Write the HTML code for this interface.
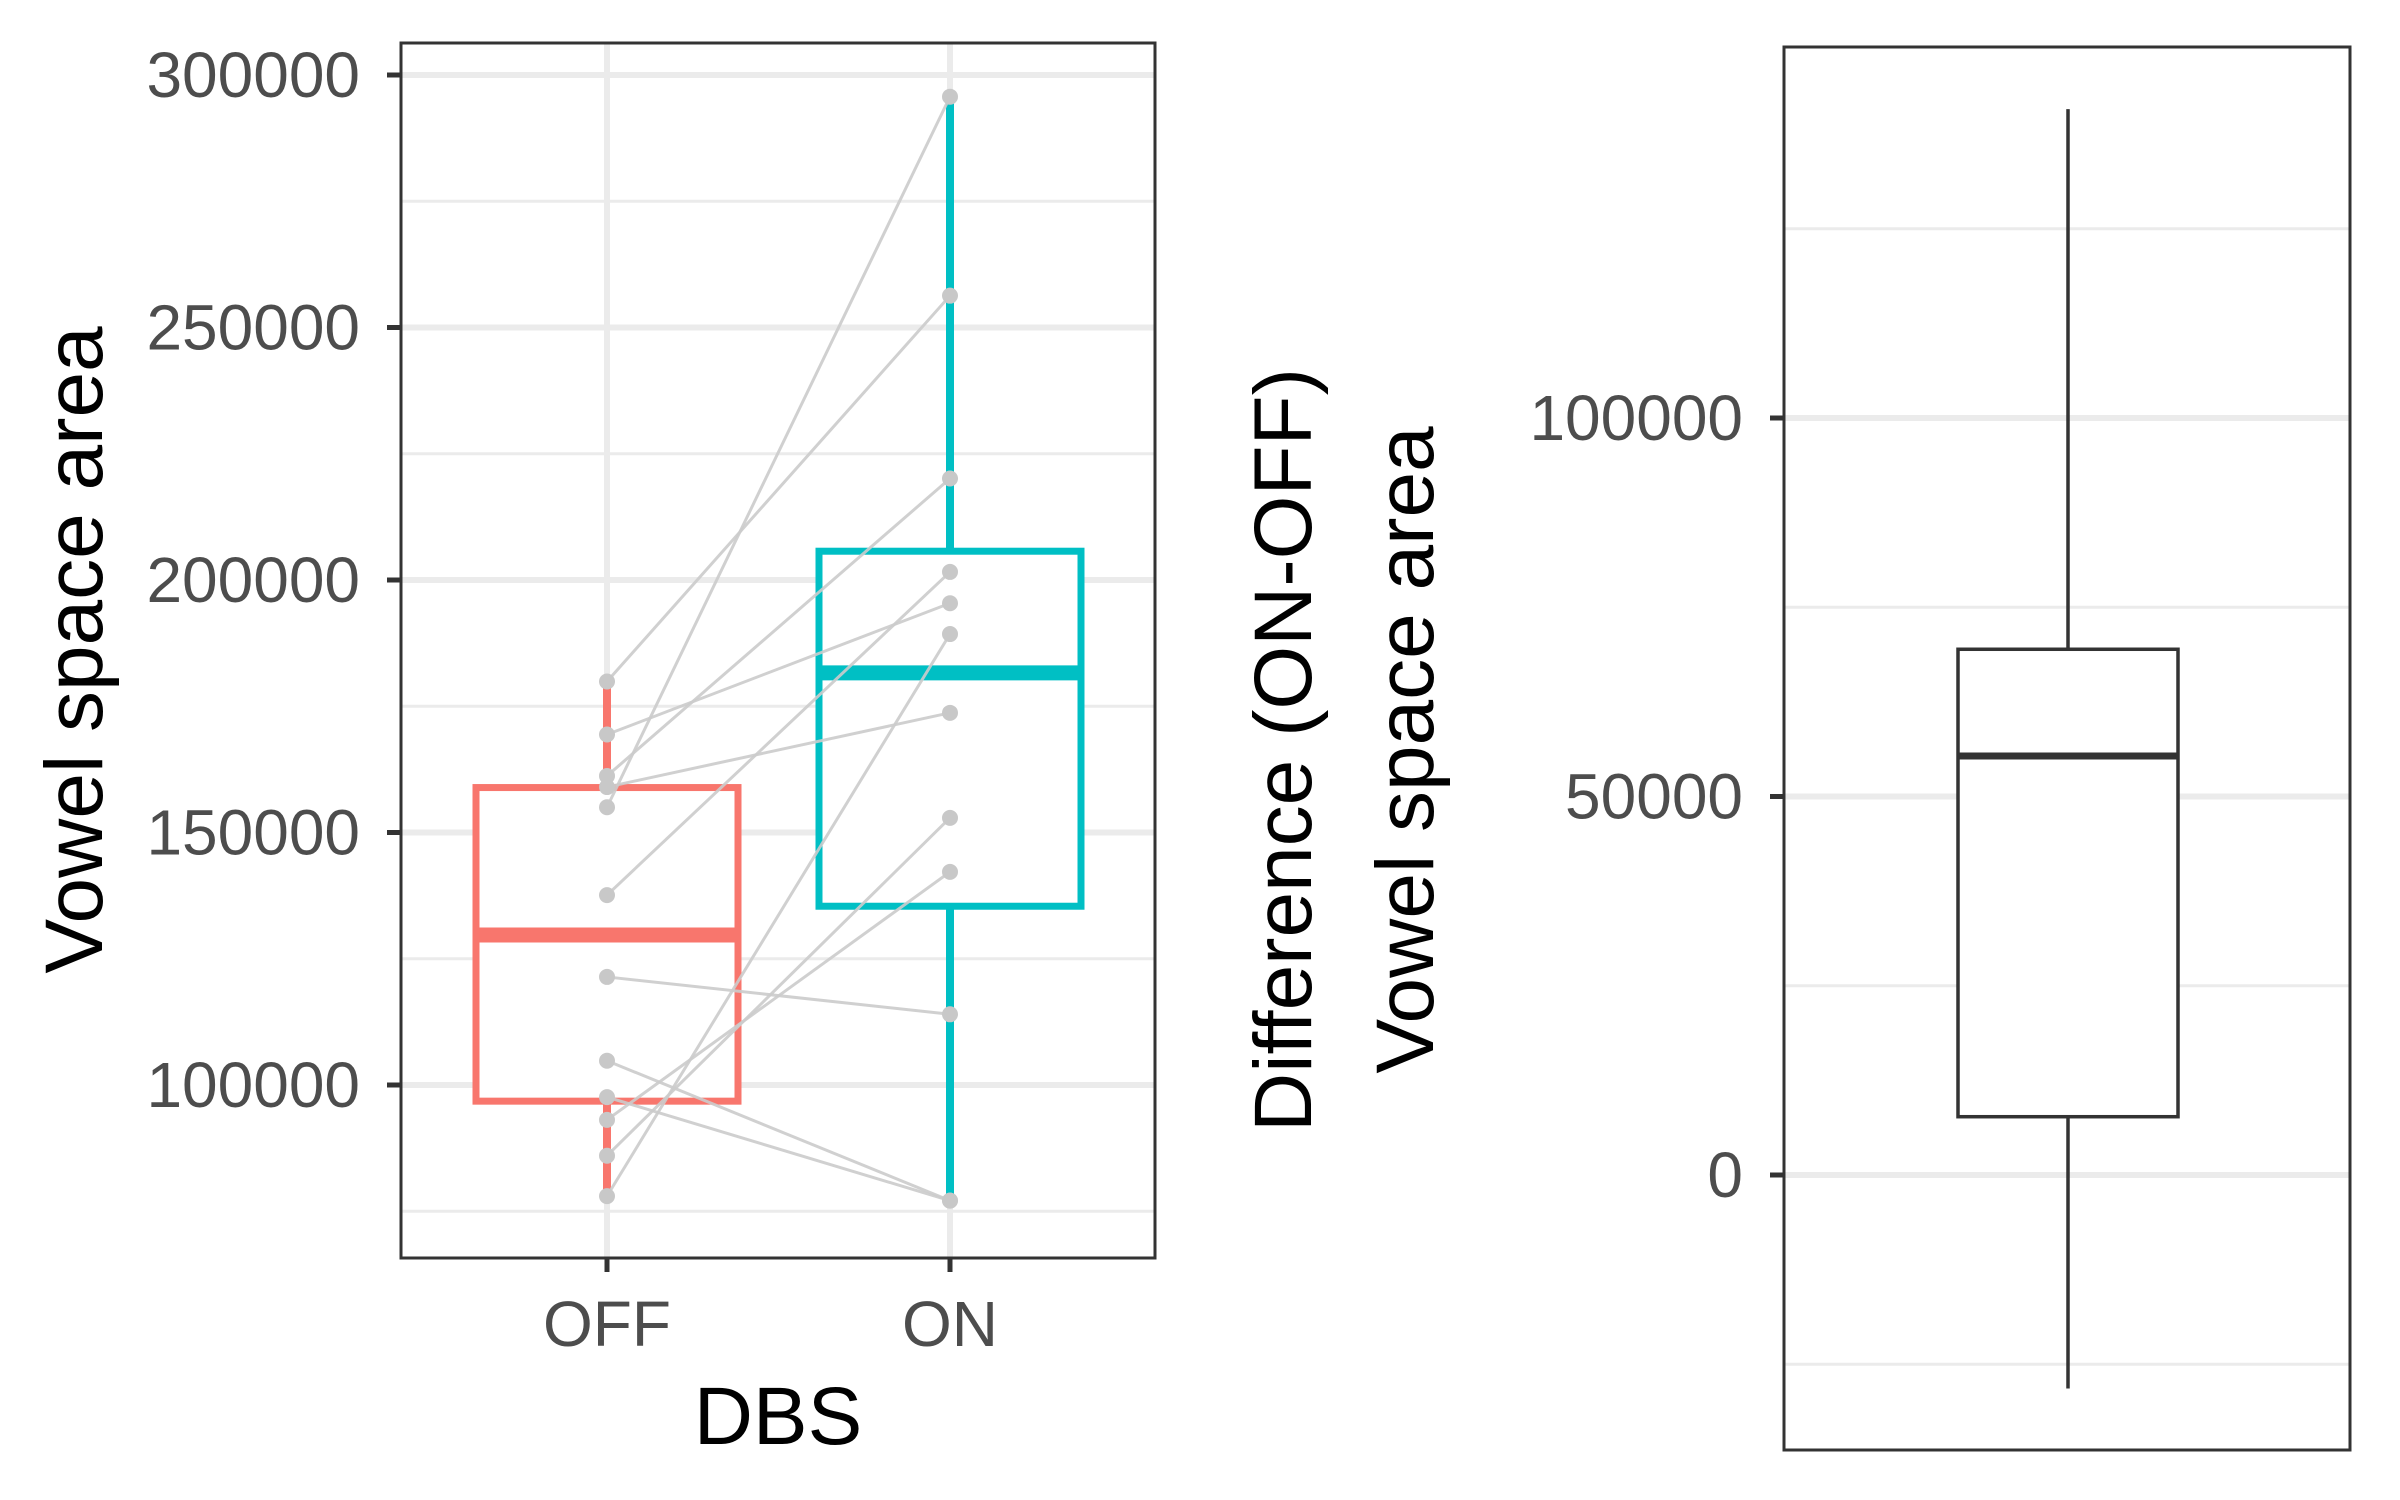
<!DOCTYPE html>
<html><head><meta charset="utf-8"><style>
html,body{margin:0;padding:0;background:#fff;}
svg{display:block;font-family:"Liberation Sans",Arial,sans-serif;}
</style></head><body>
<svg id="chart" width="2400" height="1500" viewBox="0 0 2400 1500" xmlns="http://www.w3.org/2000/svg">
<g id="left"></g>
<g id="right"></g>
</svg>
<script>
const groups = ["OFF", "ON"];
const offValues = [155000, 179900, 161200, 137600, 169400, 78000, 159000, 86000, 93100, 121400, 104800, 97600];
const onValues = [295700, 256300, 220100, 201600, 195400, 189300, 173700, 152900, 142200, 114000, 77100, 77100];
const offBox = [78000, 96800, 129700, 158900, 179900];
const onBox = [77100, 135400, 181600, 205700, 295700];
const leftTicks = [100000, 150000, 200000, 250000, 300000];
const leftMinor = [75000, 125000, 175000, 225000, 275000];
const diffBox = [-28200, 7700, 55350, 69450, 140800];
const rightTicks = [0, 50000, 100000];
const rightMinor = [-25000, 25000, 75000, 125000];

const NS = "http://www.w3.org/2000/svg";
function mk(parent, tag, attrs, text) {
  const e = document.createElementNS(NS, tag);
  for (const k in attrs) e.setAttribute(k, attrs[k]);
  if (text !== undefined) e.textContent = text;
  parent.appendChild(e);
  return e;
}
const TF = 64, TT = 82;
// LEFT
const L = document.getElementById('left');
const lx0 = 401, lx1 = 1155, ly0 = 43, ly1 = 1258;
const ly = v => 1085 - (v - 100000) / 200000 * (1085 - 75);
const lxPos = {OFF: 607, ON: 950};
const lx = g => lxPos[g];
let e;
leftMinor.forEach(v => {
  e = mk(L, 'line', {x1: lx0, x2: lx1, y1: ly(v), y2: ly(v), stroke: '#ebebeb', 'stroke-width': 3});
  
  
});
leftTicks.forEach(v => {
  e = mk(L, 'line', {x1: lx0, x2: lx1, y1: ly(v), y2: ly(v), stroke: '#ebebeb', 'stroke-width': 6});
  
  
  e = mk(L, 'line', {x1: lx0 - 14, x2: lx0, y1: ly(v), y2: ly(v), stroke: '#333', 'stroke-width': 5});
  
  
  e = mk(L, 'text', {x: 360, y: ly(v) + 22, 'text-anchor': 'end', 'font-size': TF, fill: '#4d4d4d'}, String(v));
  
  
});
groups.forEach(g => {
  e = mk(L, 'line', {x1: lx(g), x2: lx(g), y1: ly0, y2: ly1, stroke: '#ebebeb', 'stroke-width': 6});
  
  
});
function lbox(g, b, col) {
  const cx = lx(g), hw = 131;
  e = mk(L, 'line', {x1: cx, x2: cx, y1: ly(b[0]), y2: ly(b[4]), stroke: col, 'stroke-width': 8});
  
  
  e = mk(L, 'rect', {x: cx - hw, y: ly(b[3]), width: 2 * hw, height: ly(b[1]) - ly(b[3]), fill: '#fff', stroke: col, 'stroke-width': 7});
  
  
  e = mk(L, 'line', {x1: cx - hw, x2: cx + hw, y1: ly(b[2]), y2: ly(b[2]), stroke: col, 'stroke-width': 15});
  
  
}
lbox('OFF', offBox, '#f8766d');
lbox('ON', onBox, '#00bfc4');
offValues.forEach((v, i) => {
  e = mk(L, 'line', {x1: lx('OFF'), y1: ly(v), x2: lx('ON'), y2: ly(onValues[i]), stroke: '#cccccc', 'stroke-width': 3, opacity: 0.9});
  
  
});
offValues.forEach(v => {
  e = mk(L, 'circle', {cx: lx('OFF'), cy: ly(v), r: 8, fill: '#c8c8c8'});
  
  
});
onValues.forEach(v => {
  e = mk(L, 'circle', {cx: lx('ON'), cy: ly(v), r: 8, fill: '#c8c8c8'});
  
  
});
e = mk(L, 'rect', {x: lx0, y: ly0, width: lx1 - lx0, height: ly1 - ly0, fill: 'none', stroke: '#333', 'stroke-width': 3});


groups.forEach(g => {
  e = mk(L, 'line', {x1: lx(g), x2: lx(g), y1: ly1, y2: ly1 + 14, stroke: '#333', 'stroke-width': 5});
  
  
  e = mk(L, 'text', {x: lx(g), y: 1346, 'text-anchor': 'middle', 'font-size': TF, fill: '#4d4d4d'}, g);
  
  
});
e = mk(L, 'text', {x: 778, y: 1444, 'text-anchor': 'middle', 'font-size': TT, fill: '#000'}, 'DBS');


e = mk(L, 'text', {x: 0, y: 0, 'text-anchor': 'middle', 'font-size': TT, fill: '#000', transform: 'translate(102,650) rotate(-90)'}, 'Vowel space area');



// RIGHT
const R = document.getElementById('right');
const rx0 = 1784, rx1 = 2350, ry0 = 47, ry1 = 1450;
const ry = v => 1175 - v / 100000 * (1175 - 418);
rightMinor.forEach(v => {
  e = mk(R, 'line', {x1: rx0, x2: rx1, y1: ry(v), y2: ry(v), stroke: '#ebebeb', 'stroke-width': 3});
  
  
});
rightTicks.forEach(v => {
  e = mk(R, 'line', {x1: rx0, x2: rx1, y1: ry(v), y2: ry(v), stroke: '#ebebeb', 'stroke-width': 6});
  
  
  e = mk(R, 'line', {x1: rx0 - 14, x2: rx0, y1: ry(v), y2: ry(v), stroke: '#333', 'stroke-width': 5});
  
  
  e = mk(R, 'text', {x: 1743, y: ry(v) + 22, 'text-anchor': 'end', 'font-size': TF, fill: '#4d4d4d'}, String(v));
  
  
});
const rcx = 2068, rhw = 110;
e = mk(R, 'line', {x1: rcx, x2: rcx, y1: ry(diffBox[0]), y2: ry(diffBox[4]), stroke: '#333', 'stroke-width': 3.5});


e = mk(R, 'rect', {x: rcx - rhw, y: ry(diffBox[3]), width: 2 * rhw, height: ry(diffBox[1]) - ry(diffBox[3]), fill: '#fff', stroke: '#333', 'stroke-width': 3.5});


e = mk(R, 'line', {x1: rcx - rhw, x2: rcx + rhw, y1: ry(diffBox[2]), y2: ry(diffBox[2]), stroke: '#333', 'stroke-width': 7});


e = mk(R, 'rect', {x: rx0, y: ry0, width: rx1 - rx0, height: ry1 - ry0, fill: 'none', stroke: '#333', 'stroke-width': 3});


e = mk(R, 'text', {x: 0, y: 0, 'text-anchor': 'middle', 'font-size': TT, fill: '#000', transform: 'translate(1311,750) rotate(-90)'}, 'Difference (ON-OFF)');


e = mk(R, 'text', {x: 0, y: 0, 'text-anchor': 'middle', 'font-size': TT, fill: '#000', transform: 'translate(1433,750) rotate(-90)'}, 'Vowel space area');


</script>
</body></html>
